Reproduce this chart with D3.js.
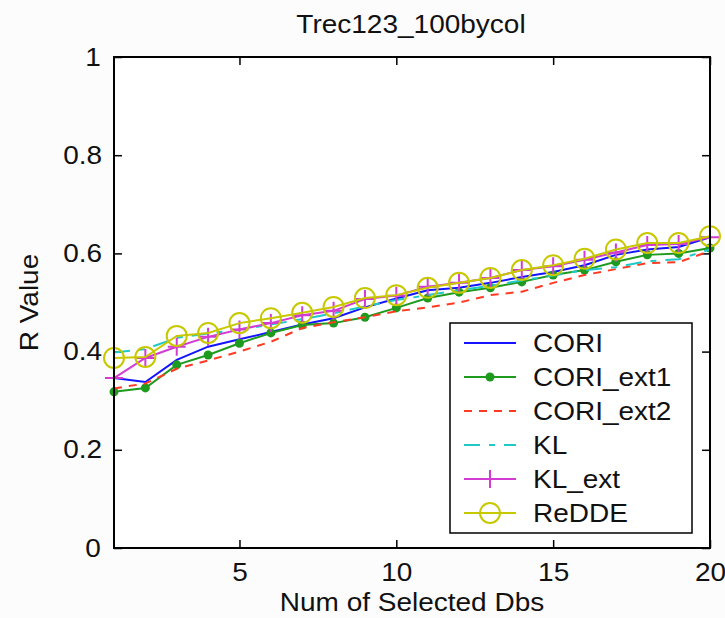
<!DOCTYPE html>
<html>
<head>
<meta charset="utf-8">
<script src="https://cdn.jsdelivr.net/npm/d3@7"></script>
<style>
  html, body { margin: 0; padding: 0; background: #fcfcfc; }
  svg { display: block; }
  text { font-family: "Liberation Sans", Arial, sans-serif; font-size: 25px; fill: #111; }
  .sx { transform-box: fill-box; transform-origin: center; transform: scaleX(1.12); }
  .sxl { transform-box: fill-box; transform-origin: left center; transform: scaleX(1.12); }
</style>
</head>
<body>
<svg id="chart" width="725" height="618"></svg>
<script>
// ---------- data ----------
const xValues = d3.range(1, 21);
const xTicks = [5, 10, 15, 20];
const yTicks = [0, 0.2, 0.4, 0.6, 0.8, 1];
const yTickLabels = ["0", "0.2", "0.4", "0.6", "0.8", "1"];
const seriesNames = ["CORI", "CORI_ext1", "CORI_ext2", "KL", "KL_ext", "ReDDE"];

const CORI      = [0.346, 0.338, 0.383, 0.410, 0.425, 0.440, 0.455, 0.468, 0.490, 0.508, 0.525, 0.530, 0.540, 0.552, 0.562, 0.576, 0.597, 0.608, 0.613, 0.633];
const CORI_ext1 = [0.318, 0.326, 0.373, 0.393, 0.417, 0.438, 0.454, 0.458, 0.470, 0.489, 0.509, 0.521, 0.530, 0.542, 0.556, 0.566, 0.583, 0.597, 0.600, 0.611];
const CORI_ext2 = [0.325, 0.335, 0.365, 0.382, 0.400, 0.420, 0.448, 0.460, 0.470, 0.482, 0.490, 0.500, 0.515, 0.522, 0.540, 0.556, 0.568, 0.580, 0.582, 0.605];
const KL        = [0.398, 0.405, 0.428, 0.437, 0.445, 0.455, 0.466, 0.478, 0.492, 0.505, 0.515, 0.525, 0.534, 0.545, 0.555, 0.566, 0.572, 0.584, 0.588, 0.608];
const KL_ext    = [0.346, 0.387, 0.410, 0.430, 0.445, 0.458, 0.474, 0.483, 0.507, 0.514, 0.532, 0.540, 0.550, 0.566, 0.574, 0.587, 0.602, 0.617, 0.619, 0.633];
const ReDDE     = [0.387, 0.389, 0.432, 0.438, 0.458, 0.468, 0.479, 0.491, 0.509, 0.515, 0.530, 0.540, 0.550, 0.566, 0.576, 0.589, 0.608, 0.621, 0.621, 0.635];

const seriesValues = [CORI, CORI_ext1, CORI_ext2, KL, KL_ext, ReDDE];
const seriesColors = ["#1414ff", "#1e9a1e", "#ff3a22", "#20c8c8", "#d23cd2", "#c8c800"];
const seriesDash   = [null, null, "8,7", "16,9,6,9", null, null];
const seriesMarker = ["none", "dot", "none", "none", "plus", "circle"];

// ---------- layout ----------
const svg = d3.select("#chart");
const L = 114, R = 710, T = 57, B = 548;
const x = d3.scaleLinear().domain([1, 20]).range([L, R]);
const y = d3.scaleLinear().domain([0, 1]).range([B, T]);

svg.append("rect").attr("x", L).attr("y", T).attr("width", R - L).attr("height", B - T)
  .attr("fill", "#ffffff");

// axes (inward ticks on all four sides)
function styleAxis(g) {
  g.select(".domain").remove();
  g.selectAll(".tick line").attr("stroke", "#000").attr("stroke-width", 1.5);
  g.selectAll("text").attr("font-size", null).attr("font-family", null).attr("fill", "#111").attr("class", "sx");
}
svg.append("g").attr("transform", `translate(0,${B})`)
  .call(d3.axisBottom(x).tickValues(xTicks).tickSize(-8).tickPadding(15).tickFormat(d3.format("d")))
  .call(styleAxis);
svg.append("g").attr("transform", `translate(0,${T})`)
  .call(d3.axisTop(x).tickValues(xTicks).tickSize(-8).tickFormat(""))
  .call(styleAxis);
svg.append("g").attr("transform", `translate(${L},0)`)
  .call(d3.axisLeft(y).tickValues(yTicks).tickSize(-8).tickPadding(14)
    .tickFormat((d, i) => yTickLabels[i]))
  .call(styleAxis);
svg.append("g").attr("transform", `translate(${R},0)`)
  .call(d3.axisRight(y).tickValues(yTicks).tickSize(-8).tickFormat(""))
  .call(styleAxis);

// series
const line = d3.line().x((d, i) => x(xValues[i])).y(d => y(d));
function drawMarker(g, type, cx, cy, color) {
  if (type === "dot") {
    g.append("circle").attr("cx", cx).attr("cy", cy).attr("r", 4.5).attr("fill", color);
  } else if (type === "plus") {
    g.append("path").attr("d", `M${cx - 9},${cy}H${cx + 9}M${cx},${cy - 9}V${cy + 9}`)
      .attr("stroke", color).attr("stroke-width", 2).attr("fill", "none");
  } else if (type === "circle") {
    g.append("circle").attr("cx", cx).attr("cy", cy).attr("r", 10)
      .attr("stroke", color).attr("stroke-width", 2).attr("fill", "none");
  }
}
const plot = svg.append("g");
seriesValues.forEach((vals, s) => {
  const g = plot.append("g");
  g.append("path").datum(vals).attr("d", line)
    .attr("fill", "none").attr("stroke", seriesColors[s]).attr("stroke-width", 2)
    .attr("stroke-dasharray", seriesDash[s]);
  vals.forEach((v, i) => drawMarker(g, seriesMarker[s], x(xValues[i]), y(v), seriesColors[s]));
});

// frame
svg.append("rect").attr("x", L).attr("y", T).attr("width", R - L).attr("height", B - T)
  .attr("fill", "none").attr("stroke", "#000").attr("stroke-width", 2);

// legend
const lg = svg.append("g");
lg.append("rect").attr("x", 450).attr("y", 323).attr("width", 242).attr("height", 210)
  .attr("fill", "#ffffff").attr("stroke", "#000").attr("stroke-width", 1.5);
const legY0 = 343, legDY = 34;
seriesNames.forEach((name, s) => {
  const ly = legY0 + s * legDY;
  const g = lg.append("g");
  g.append("line").attr("x1", 464).attr("x2", 516).attr("y1", ly).attr("y2", ly)
    .attr("stroke", seriesColors[s]).attr("stroke-width", 2)
    .attr("stroke-dasharray", seriesDash[s]);
  drawMarker(g, seriesMarker[s], 490, ly, seriesColors[s]);
  g.append("text").attr("class", "sxl").attr("x", 533).attr("y", ly).attr("dy", "0.36em").text(name);
});

// titles
svg.append("text").attr("class", "sx").attr("x", 411).attr("y", 33).attr("text-anchor", "middle")
  .text("Trec123_100bycol");
svg.append("text").attr("class", "sx").attr("x", 412).attr("y", 611).attr("text-anchor", "middle")
  .text("Num of Selected Dbs");
svg.append("text").attr("transform", `translate(38,${(T + B) / 2}) rotate(-90) scale(1.12,1)`)
  .attr("text-anchor", "middle").text("R Value");
</script>
</body>
</html>
